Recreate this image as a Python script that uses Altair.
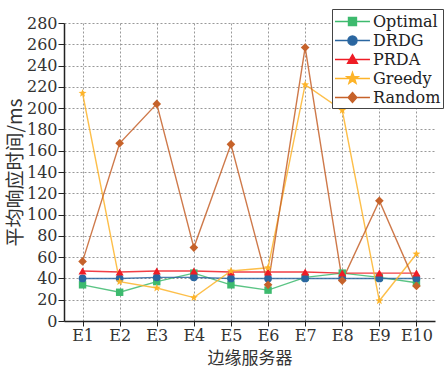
import math
import altair as alt
import pandas as pd

# Average response time (ms) of each scheduling strategy on edge servers E1..E10
servers = ["E1", "E2", "E3", "E4", "E5", "E6", "E7", "E8", "E9", "E10"]
optimal = [34, 27, 37, 45, 34, 29, 41, 45, 41, 36]
drdg = [40, 40, 41, 41, 40, 40, 40, 40, 40, 40]
prda = [47, 46, 47, 47, 46, 46, 46, 45, 45, 45]
greedy = [214, 37, 31, 22, 47, 50, 222, 198, 19, 63]
random_ = [56, 167, 204, 69, 166, 34, 257, 38, 113, 33]

series_names = ["Optimal", "DRDG", "PRDA", "Greedy", "Random"]
series_values = [optimal, drdg, prda, greedy, random_]
colors = ["#3dba6e", "#2a66a0", "#ee1c25", "#fdb42a", "#c6622a"]


def star_path(r_out, r_in, cx=0.0):
    pts = []
    for k in range(10):
        r = r_out if k % 2 == 0 else r_in
        a = -math.pi / 2 + k * math.pi / 5
        pts.append(f"{cx + r * math.cos(a):.3f},{r * math.sin(a):.3f}")
    return "M" + " L".join(pts) + "Z"


shapes = ["square", "circle", "triangle-up", star_path(1.0, 0.42), "diamond"]

# legend keys: a line segment with the marker at its middle (shifted right of the key slot)
c = 0.84
seg = "M-1,0H2.68"
legend_shapes = [
    seg + f"M{c - 0.42},-0.42H{c + 0.42}V0.42H{c - 0.42}Z",
    seg + f"M{c + 0.48},0A0.48,0.48 0 1,1 {c - 0.48},0A0.48,0.48 0 1,1 {c + 0.48},0Z",
    seg + f"M{c},-0.52L{c + 0.52},0.4H{c - 0.52}Z",
    seg + star_path(0.64, 0.26, c),
    seg + f"M{c},-0.52L{c + 0.46},0L{c},0.52L{c - 0.46},0Z",
]

rows = []
for name, vals in zip(series_names, series_values):
    for s, v in zip(servers, vals):
        rows.append({"server": s, "time": v, "series": name})
df = pd.DataFrame(rows)

SERIF = "DejaVu Serif"
CJK = "Noto Sans CJK SC"
TEXT = "#333333"

x_enc = alt.X(
    "server:N",
    sort=servers,
    scale=alt.Scale(type="point", padding=0.5),
    axis=alt.Axis(
        title="边缘服务器",
        titleFont=CJK,
        titleFontSize=17,
        titleFontWeight="normal",
        titleColor=TEXT,
        titlePadding=7,
        labelFont=SERIF,
        labelFontSize=16,
        labelColor=TEXT,
        labelAngle=0,
        labelPadding=1,
        tickSize=5,
        tickColor="#222",
        domainColor="#222",
        domainWidth=1.5,
        grid=True,
        gridColor="#999",
        gridDash=[2, 2],
    ),
)
y_enc = alt.Y(
    "time:Q",
    scale=alt.Scale(domain=[0, 280], nice=False),
    axis=alt.Axis(
        title="平均响应时间/ms",
        titleFont=CJK,
        titleFontSize=19,
        titleFontWeight="normal",
        titleColor=TEXT,
        titlePadding=1,
        values=list(range(0, 281, 20)),
        labelFont=SERIF,
        labelFontSize=16,
        labelColor=TEXT,
        labelPadding=1,
        tickSize=6,
        tickColor="#222",
        domainColor="#222",
        domainWidth=1.5,
        grid=True,
        gridColor="#999",
        gridDash=[2, 2],
    ),
)

color_scale = alt.Scale(domain=series_names, range=colors)

lines = alt.Chart(df).mark_line(strokeWidth=1.4, opacity=0.85).encode(
    x=x_enc,
    y=y_enc,
    color=alt.Color("series:N", scale=color_scale, legend=None),
    order=alt.Order("series:N"),
)

size_scale = alt.Scale(domain=series_names, range=[55, 75, 80, 38, 85])
points = alt.Chart(df).mark_point(filled=True, opacity=1).encode(
    x=x_enc,
    y=y_enc,
    color=alt.Color("series:N", scale=color_scale, legend=None),
    shape=alt.Shape("series:N", scale=alt.Scale(domain=series_names, range=shapes), legend=None),
    size=alt.Size("series:N", scale=size_scale, legend=None),
)

legend_cfg = dict(
    title=None,
    orient="none",
    legendX=268,
    legendY=-14,
    direction="vertical",
    labelFont=SERIF,
    labelFontSize=16,
    labelColor="#222",
    labelLimit=200,
    labelOffset=18,
    symbolSize=361,
    symbolStrokeWidth=1.4,
    symbolOpacity=1,
    rowPadding=0,
    padding=2,
    strokeColor="#444",
    fillColor="white",
)

legend_layer = alt.Chart(df).mark_point(filled=True, size=0).encode(
    x=x_enc,
    y=y_enc,
    color=alt.Color("series:N", scale=color_scale, sort=series_names, legend=alt.Legend(**legend_cfg)),
    stroke=alt.Stroke("series:N", scale=color_scale, sort=series_names, legend=alt.Legend(**legend_cfg)),
    shape=alt.Shape(
        "series:N",
        scale=alt.Scale(domain=series_names, range=legend_shapes),
        sort=series_names,
        legend=alt.Legend(**legend_cfg),
    ),
)

chart = (
    alt.layer(lines, points, legend_layer)
    .resolve_scale(color="independent", shape="independent", stroke="independent")
    .properties(
        width=371,
        height=298,
        autosize=alt.AutoSizeParams(type="none"),
        padding={"left": 64, "top": 23, "right": 9, "bottom": 48},
        background="white",
    )
    .configure_view(stroke=None)
)

chart.save("out.html", embed_options={"renderer": "svg", "actions": False})
